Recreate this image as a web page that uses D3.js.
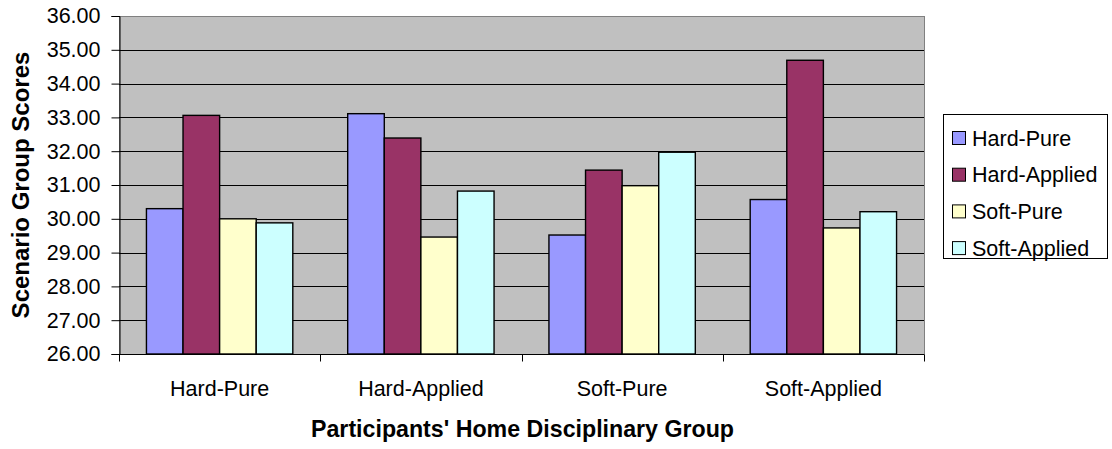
<!DOCTYPE html>
<html>
<head>
<meta charset="utf-8">
<script src="https://cdn.jsdelivr.net/npm/d3@7"></script>
<style>
  html, body { margin: 0; padding: 0; background: #fff; }
  svg { display: block; font-family: "Liberation Sans", Arial, sans-serif; }
</style>
</head>
<body>
<svg id="chart" width="1112" height="449"></svg>
<script>
// Participants' home disciplinary groups (x categories)
const groups = ["Hard-Pure", "Hard-Applied", "Soft-Pure", "Soft-Applied"];
// Scenario groups (series)
const seriesNames = ["Hard-Pure", "Hard-Applied", "Soft-Pure", "Soft-Applied"];
const seriesColors = ["#9999FF", "#993366", "#FFFFCC", "#CCFFFF"];
// Mean scores: one array per scenario series, ordered like `groups`
const hardPure    = [30.30, 33.11, 29.52, 30.57];
const hardApplied = [33.06, 32.39, 31.44, 34.69];
const softPure    = [30.00, 29.46, 30.98, 29.73];
const softApplied = [29.88, 30.82, 31.97, 30.21];
const seriesValues = [hardPure, hardApplied, softPure, softApplied];
const yTicks = [26, 27, 28, 29, 30, 31, 32, 33, 34, 35, 36];

const svg = d3.select("#chart");
const plot = { left: 119, top: 16, right: 924, bottom: 354 };

const y = d3.scaleLinear().domain([26, 36]).range([plot.bottom, plot.top]);
const x0 = d3.scaleBand().domain(groups).range([plot.left, plot.right]).paddingInner(0).paddingOuter(0);
// bars fill 4/(4+1.5) of each category slot (150% gap)
const barW = x0.bandwidth() / 5.5;
const x1 = d3.scaleBand().domain(seriesNames).range([0, barW * 4]).padding(0);
const groupOffset = barW * 0.75;

// plot background
svg.append("rect")
  .attr("x", plot.left + 0.5).attr("y", plot.top + 0.5)
  .attr("width", plot.right - plot.left).attr("height", plot.bottom - plot.top)
  .attr("fill", "#C0C0C0").attr("stroke", "#808080").attr("stroke-width", 1);

// gridlines
svg.append("g").selectAll("line").data(yTicks.slice(1, -1)).join("line")
  .attr("x1", plot.left).attr("x2", plot.right)
  .attr("y1", d => Math.round(y(d)) + 0.5).attr("y2", d => Math.round(y(d)) + 0.5)
  .attr("stroke", "#000").attr("stroke-width", 1);

// bars
const gGroups = svg.append("g").selectAll("g").data(groups).join("g")
  .attr("transform", g => `translate(${x0(g) + groupOffset},0)`);
gGroups.selectAll("rect")
  .data((g, gi) => seriesNames.map((s, si) => ({ s, si, v: seriesValues[si][gi] })))
  .join("rect")
  .attr("x", d => x1(d.s))
  .attr("y", d => y(d.v))
  .attr("width", x1.bandwidth())
  .attr("height", d => y(26) - y(d.v))
  .attr("fill", d => seriesColors[d.si])
  .attr("stroke", "#000").attr("stroke-width", 1.4);

// y axis
const yAxis = d3.axisLeft(y).tickValues(yTicks).tickFormat(d3.format(".2f")).tickSize(8).tickPadding(11);
const gy = svg.append("g").attr("transform", `translate(${plot.left + 0.5},0)`).call(yAxis);
gy.select(".domain").attr("stroke", "#000");
gy.selectAll(".tick line").attr("stroke", "#000");
gy.selectAll(".tick text").attr("fill", "#000").style("font-size", "21.5px");

// x axis: ticks at category boundaries, labels centered under each group
const gx = svg.append("g").attr("transform", `translate(0,${plot.bottom + 0.5})`);
gx.append("line").attr("x1", plot.left).attr("x2", plot.right).attr("stroke", "#000");
const bounds = groups.map(g => x0(g)).concat([plot.right]);
gx.selectAll("line.tk").data(bounds).join("line").attr("class", "tk")
  .attr("x1", d => Math.round(d) + 0.5).attr("x2", d => Math.round(d) + 0.5)
  .attr("y1", 0).attr("y2", 7).attr("stroke", "#000");
gx.selectAll("text").data(groups).join("text")
  .attr("x", g => x0(g) + x0.bandwidth() / 2)
  .attr("y", 41.5)
  .attr("text-anchor", "middle")
  .style("font-size", "21.5px")
  .text(g => g);

// axis titles
svg.append("text")
  .attr("x", (plot.left + plot.right) / 2 + 1).attr("y", 437)
  .attr("text-anchor", "middle")
  .style("font-size", "23.2px").style("font-weight", "bold")
  .text("Participants' Home Disciplinary Group");
svg.append("text")
  .attr("transform", `translate(29,${(plot.top + plot.bottom) / 2}) rotate(-90)`)
  .attr("text-anchor", "middle")
  .style("font-size", "24px").style("font-weight", "bold")
  .text("Scenario Group Scores");

// legend
const legend = svg.append("g").attr("transform", "translate(943,114)");
legend.append("rect").attr("x", 0.5).attr("y", 0.5).attr("width", 164).attr("height", 144)
  .attr("fill", "#fff").attr("stroke", "#000");
const li = legend.selectAll("g.item").data(seriesNames).join("g").attr("class", "item")
  .attr("transform", (d, i) => `translate(9,${24 + i * 36.7})`);
li.append("rect").attr("x", 0.5).attr("y", -6.5).attr("width", 13).attr("height", 13)
  .attr("fill", (d, i) => seriesColors[i]).attr("stroke", "#000");
li.append("text").attr("x", 20).attr("y", 0).attr("dy", "0.35em")
  .style("font-size", "21.5px").text(d => d);
</script>
</body>
</html>
